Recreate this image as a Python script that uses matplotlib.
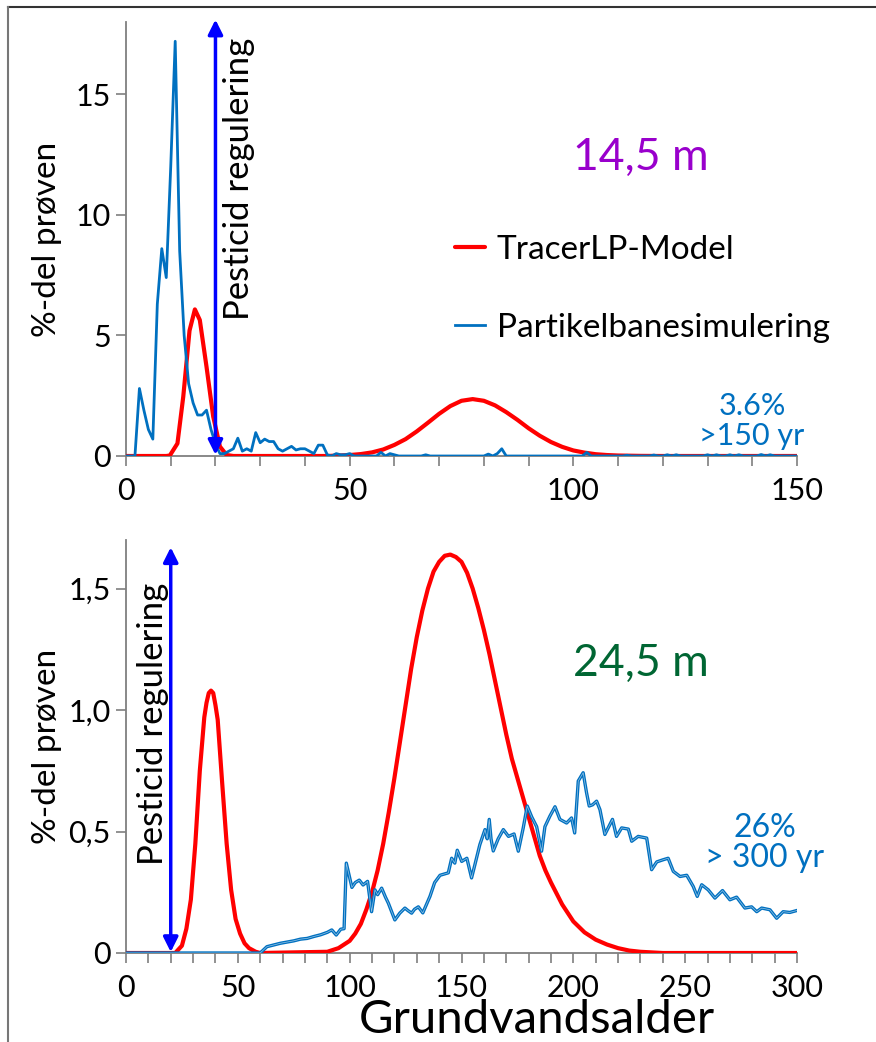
import matplotlib
matplotlib.use('Agg')
import matplotlib.pyplot as plt
from matplotlib.lines import Line2D
from matplotlib.ticker import MultipleLocator, FuncFormatter

plt.rcParams['font.family'] = ['Lato', 'DejaVu Sans']

# ---------------- data ----------------
# Top panel: 14,5 m
top_model_x = [0, 9, 9.8, 11.5, 12.8, 14.2, 15.4, 16.5, 18.0, 19.5, 21.0, 22.5, 24, 45,
               50, 52.5, 55, 57.5, 60, 62.5, 65, 67.5, 70, 72.5, 75, 77.5, 80, 82.5, 85, 87.5,
               90, 92.5, 95, 97.5, 100, 102.5, 105, 107.5, 110, 115, 120, 150]
top_model_y = [0, 0, 0.02, 0.52, 2.46, 5.2, 6.08, 5.64, 3.7, 1.63, 0.39, 0.04, 0, 0,
               0.04, 0.08, 0.15, 0.27, 0.46, 0.70, 1.02, 1.38, 1.75, 2.07, 2.29, 2.36, 2.29, 2.10, 1.82, 1.50,
               1.15, 0.84, 0.58, 0.38, 0.23, 0.14, 0.074, 0.04, 0.02, 0.005, 0, 0]

top_sim_x = [0, 1, 2, 3, 4, 5, 6, 7, 8, 9, 10, 11, 12, 13, 14, 15, 16, 17, 18, 19, 20,
             21, 22, 23, 24, 25, 26, 27, 28, 29, 30, 31, 32, 33, 34, 35, 36, 37, 38, 39, 40,
             41, 42, 43, 44, 45, 46, 47, 48, 49, 50, 51, 56, 57, 58, 59, 60, 61, 66, 67, 68,
             80, 81, 82, 83, 84, 85, 102, 103, 104, 111, 112, 113, 117, 118, 119, 120, 121,
             122, 123, 124, 129, 130, 131, 132, 133, 134, 135, 136, 137, 138, 141, 142, 143,
             144, 145, 150]
top_sim_y = [0, 0, 0, 2.8, 1.9, 1.1, 0.7, 6.3, 8.6, 7.4, 12.0, 17.2, 8.5, 5.0, 3.0, 2.2, 1.7, 1.7, 1.9, 1.1, 0.5,
             0.1, 0.1, 0.2, 0.3, 0.74, 0.2, 0.3, 0.2, 0.97, 0.55, 0.7, 0.6, 0.6, 0.3, 0.2, 0.3, 0.4, 0.25, 0.3, 0.3,
             0.2, 0.1, 0.45, 0.45, 0.05, 0, 0.1, 0.05, 0.05, 0.1, 0, 0, 0.15, 0, 0.1, 0.05, 0, 0, 0.05, 0,
             0, 0.08, 0, 0.1, 0.3, 0, 0, 0.15, 0, 0, 0.03, 0, 0, 0.04, 0, 0, 0.05,
             0, 0.05, 0, 0, 0.05, 0, 0.05, 0, 0, 0.05, 0, 0.05, 0, 0, 0.06, 0,
             0.05, 0, 0]

# Bottom panel: 24,5 m
bot_model_x = [0, 22, 25, 27, 29, 31, 33, 35, 36, 37, 38, 39, 40, 41, 43, 45, 47, 49, 51, 53, 55, 58, 60,
               90, 95, 100, 102.5, 105, 107.5, 110, 112.5, 115, 117.5, 120, 122.5, 125, 127.5, 130, 132.5,
               135, 137.5, 140, 142.5, 145, 147.5, 150, 152.5, 155, 157.5, 160, 162.5, 165, 167.5, 170,
               172.5, 175, 177.5, 180, 182.5, 185, 187.5, 190, 195, 200, 205, 210, 215, 220, 225, 230,
               240, 300]
bot_model_y = [0, 0, 0.03, 0.1, 0.22, 0.45, 0.75, 0.97, 1.03, 1.07, 1.08, 1.07, 1.02, 0.96, 0.7, 0.45, 0.26, 0.14,
               0.08, 0.04, 0.02, 0.005, 0,
               0.005, 0.02, 0.05, 0.08, 0.12, 0.18, 0.25, 0.34, 0.45, 0.58, 0.72, 0.87, 1.02, 1.17, 1.3, 1.41,
               1.5, 1.57, 1.61, 1.635, 1.64, 1.63, 1.61, 1.565, 1.5, 1.42, 1.33, 1.23, 1.12, 1.01, 0.9,
               0.8, 0.72, 0.64, 0.56, 0.48, 0.4, 0.34, 0.29, 0.2, 0.13, 0.085, 0.055, 0.035, 0.02, 0.01, 0.005,
               0, 0]

bot_sim_x = [0, 60, 63, 66, 69, 72, 75, 78, 81, 84, 87, 90, 92, 94, 96, 97.5, 98.5, 101, 102.5, 104.3,
             106, 108, 109.8, 111.3, 112.5, 114.3, 116, 117.3, 120.2, 122.4, 124.7, 126, 127.7, 129,
             130.7, 132.7, 135.9, 138, 140.4, 144.1, 145.6, 147, 148.1, 150.1, 152.4, 154.5, 156, 158.2,
             160.5, 161.5, 162.4, 163.2, 164.2, 166.4, 168.7, 171, 173.5, 175.4, 177.6, 179.4, 181.4,
             183.6, 185.8, 187.3, 189.5, 191.8, 194, 197, 199.2, 200.6, 202.2, 204.4, 205.9, 207.1,
             208.6, 210.4, 211.9, 214.1, 217.5, 219.3, 221.6, 224.6, 226.1, 229, 232.8, 235, 237.3,
             240.2, 242.4, 244.7, 247.7, 250.7, 253.6, 255.4, 257.4, 260.3, 263.3, 266.7, 270, 273,
             276.7, 279.7, 282, 284.2, 287.9, 290.9, 293.8, 296.8, 300]
bot_sim_y = [0, 0, 0.026, 0.033, 0.04, 0.045, 0.05, 0.057, 0.06, 0.068, 0.075, 0.085, 0.095, 0.074, 0.098, 0.1, 0.37, 0.27, 0.29, 0.3,
             0.28, 0.295, 0.17, 0.26, 0.24, 0.267, 0.23, 0.205, 0.136, 0.164, 0.185, 0.175, 0.164, 0.18,
             0.19, 0.165, 0.233, 0.29, 0.32, 0.33, 0.39, 0.37, 0.423, 0.377, 0.39, 0.309, 0.364, 0.446,
             0.508, 0.47, 0.55, 0.47, 0.42, 0.47, 0.508, 0.48, 0.49, 0.419, 0.515, 0.605, 0.56,
             0.52, 0.419, 0.52, 0.563, 0.602, 0.55, 0.535, 0.556, 0.494, 0.708, 0.742, 0.66, 0.605,
             0.61, 0.625, 0.59, 0.488, 0.55, 0.48, 0.515, 0.51, 0.46, 0.48, 0.473, 0.343, 0.375,
             0.384, 0.39, 0.336, 0.315, 0.32, 0.274, 0.233, 0.281, 0.26, 0.226, 0.257, 0.219, 0.23,
             0.185, 0.19, 0.17, 0.185, 0.178, 0.143, 0.17, 0.167, 0.175]

top_yticks = [0, 5, 10, 15]
bot_yticks = [0, 0.5, 1.0, 1.5]
pesticide_year = 20
series_labels = ['TracerLP-Model', 'Partikelbanesimulering']

# ---------------- style ----------------
RED = '#FF0000'
BLUE = '#0070C0'
ARROW = '#0000FF'
AXC = '#7F7F7F'

W, H = 876, 1042
fig = plt.figure(figsize=(W / 100, H / 100), dpi=100)


def fx(px):
    return px / W


def fy(py):
    return 1 - py / H


ax1 = fig.add_axes([fx(126), fy(456), fx(797) - fx(126), fy(22) - fy(456)])
ax2 = fig.add_axes([fx(126), fy(953), fx(797) - fx(126), fy(540) - fy(953)])

l_model, = ax1.plot(top_model_x, top_model_y, color=RED, lw=3.0, zorder=3,
                    solid_joinstyle='round', solid_capstyle='round')
l_sim, = ax1.plot(top_sim_x, top_sim_y, color=BLUE, lw=2.0, zorder=4)

ax2.plot(bot_model_x, bot_model_y, color=RED, lw=3.0, zorder=3,
         solid_joinstyle='round', solid_capstyle='round')
ax2.plot(bot_sim_x, bot_sim_y, color=BLUE, lw=2.4, zorder=4)
ax2.plot(bot_sim_x, bot_sim_y, color='white', lw=0.5, alpha=0.6, zorder=5)

ax1.set_xlim(0, 150)
ax1.set_ylim(0, 18)
ax2.set_xlim(0, 300)
ax2.set_ylim(0, 1.7)

ax1.set_yticks(top_yticks)
ax2.set_yticks(bot_yticks)
ax1.yaxis.set_major_formatter(FuncFormatter(lambda v, p: f"{v:g}"))
ax2.yaxis.set_major_formatter(FuncFormatter(lambda v, p: '0' if v == 0 else f"{v:.1f}".replace('.', ',')))

for ax in (ax1, ax2):
    ax.xaxis.set_major_locator(MultipleLocator(10))
    ax.xaxis.set_major_formatter(FuncFormatter(lambda v, p: f"{v:g}" if abs(v % 50) < 1e-6 else ''))
    for s in ('top', 'right'):
        ax.spines[s].set_visible(False)
    for s in ('left', 'bottom'):
        ax.spines[s].set_color(AXC)
        ax.spines[s].set_linewidth(1.3)
    ax.tick_params(axis='both', direction='out', length=7, width=1.2, color=AXC,
                   labelsize=22, labelcolor='black', pad=4)
    ax.tick_params(axis='x', pad=8)
    ax.set_ylabel('%-del prøven', fontsize=24)
    ax.yaxis.set_label_coords(-0.095, 0.5)

# arrows
ax1.annotate('', xy=(pesticide_year, 18.1), xytext=(pesticide_year, 0.05),
             arrowprops=dict(arrowstyle='<|-|>', color=ARROW, lw=2.5, mutation_scale=22,
                             shrinkA=0, shrinkB=0), annotation_clip=False, zorder=6)
ax2.annotate('', xy=(pesticide_year, 1.67), xytext=(pesticide_year, 0.004),
             arrowprops=dict(arrowstyle='<|-|>', color=ARROW, lw=2.5, mutation_scale=22,
                             shrinkA=0, shrinkB=0), annotation_clip=False, zorder=6)

# texts
fig.text(fx(239), fy(179), 'Pesticid regulering', rotation=90, ha='center', va='center', fontsize=25)
fig.text(fx(153), fy(724), 'Pesticid regulering', rotation=90, ha='center', va='center', fontsize=25)
fig.text(fx(641), fy(157), '14,5 m', color='#9900CC', ha='center', va='center', fontsize=32)
fig.text(fx(641), fy(663), '24,5 m', color='#006633', ha='center', va='center', fontsize=32)
fig.text(fx(752), fy(421), '3.6%\n>150 yr', color=BLUE, ha='center', va='center', fontsize=22,
         linespacing=1.05)
fig.text(fx(765), fy(843), '26%\n> 300 yr', color=BLUE, ha='center', va='center', fontsize=23,
         linespacing=1.0)
fig.text(fx(537), fy(1041), 'Grundvandsalder', ha='center', va='bottom', fontsize=34)

ax1.legend([l_model, l_sim], series_labels, loc='upper left', bbox_to_anchor=(fx(455), fy(235)),
           bbox_transform=fig.transFigure, frameon=False, fontsize=24, handlelength=0.9,
           handletextpad=0.35, labelspacing=1.44, borderaxespad=0, borderpad=0)

# frame lines (top and left border of the picture)
fig.add_artist(Line2D([fx(8), 1], [fy(7), fy(7)], color='#333333', lw=1.5))
fig.add_artist(Line2D([fx(8), fx(8)], [fy(7), 0], color='#777777', lw=1.5))

fig.savefig('out.png', dpi=100)
